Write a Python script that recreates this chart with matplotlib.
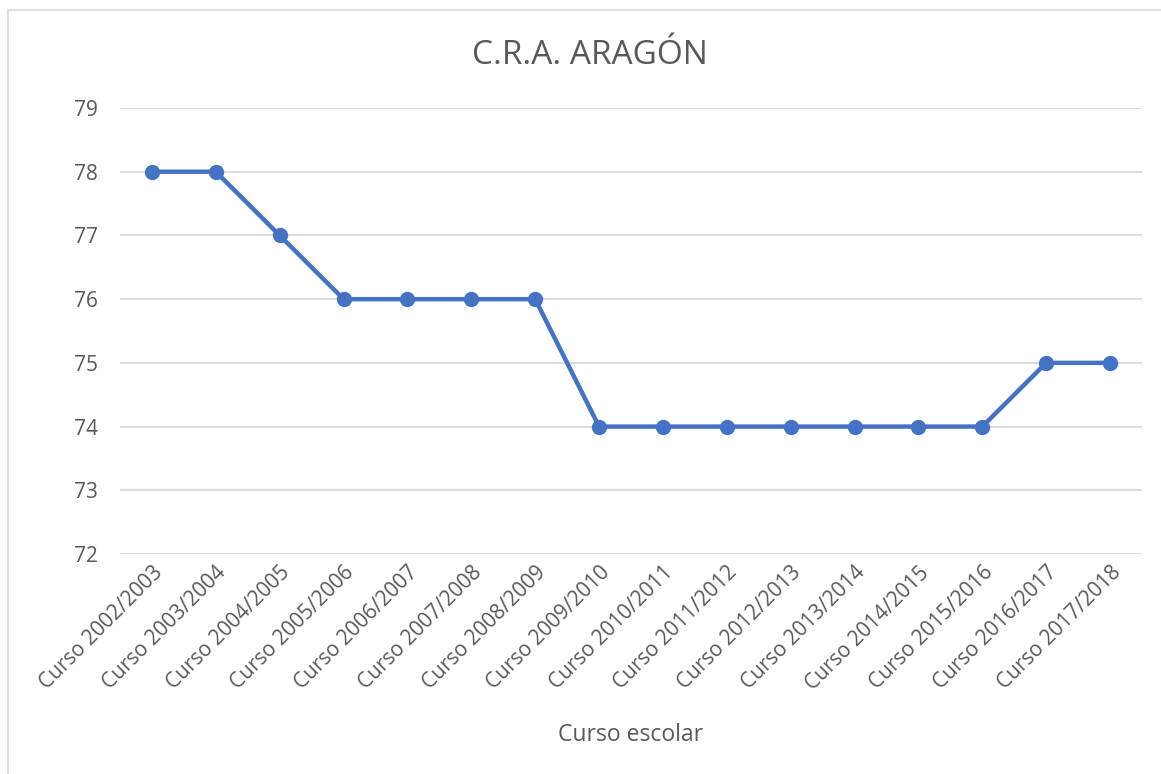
import matplotlib
matplotlib.use("Agg")
import matplotlib.pyplot as plt
from matplotlib.patches import Rectangle

# datos del grafico
cursos = ["Curso 2002/2003", "Curso 2003/2004", "Curso 2004/2005", "Curso 2005/2006",
          "Curso 2006/2007", "Curso 2007/2008", "Curso 2008/2009", "Curso 2009/2010",
          "Curso 2010/2011", "Curso 2011/2012", "Curso 2012/2013", "Curso 2013/2014",
          "Curso 2014/2015", "Curso 2015/2016", "Curso 2016/2017", "Curso 2017/2018"]
alumnos = [78, 78, 77, 76, 76, 76, 76, 74, 74, 74, 74, 74, 74, 74, 75, 75]
yticks = [72, 73, 74, 75, 76, 77, 78, 79]

plt.rcParams['font.family'] = ['Open Sans', 'DejaVu Sans']
gris = "#595959"

W, H = 1161, 774
fig = plt.figure(figsize=(W / 100, H / 100), dpi=100)
# borde del area del grafico (solo se ve a la izquierda y arriba)
fig.patches.append(Rectangle((8 / W, -0.1), 1.2, 1.1 - 10 / H, transform=fig.transFigure,
                             fill=False, edgecolor="#D9D9D9", linewidth=1.2))

ax = fig.add_axes([120 / W, 1 - 554 / H, (1142 - 120) / W, (554 - 108) / H])
x = range(len(cursos))
ax.plot(x, alumnos, color="#4472C4", linewidth=3.2, marker="o", markersize=10,
        solid_capstyle="round", zorder=3)

ax.set_xlim(-0.5, len(cursos) - 0.5)
ax.set_ylim(72, 79)
ax.set_yticks(yticks)
ax.set_xticks(list(x))
ax.set_xticklabels(cursos, rotation=45, ha="right", rotation_mode="anchor")
ax.grid(axis="y", color="#D9D9D9", linewidth=1.3)
ax.set_axisbelow(True)
for s in ax.spines.values():
    s.set_visible(False)
ax.tick_params(axis="both", length=0, labelsize=15, labelcolor=gris)
ax.tick_params(axis="y", pad=16)
ax.tick_params(axis="x", pad=6)

fig.text(590 / W, 1 - 55 / H, "C.R.A. ARAGÓN", ha="center", va="center",
         fontsize=24, color=gris)
fig.text(631 / W, 1 - 735 / H, "Curso escolar", ha="center", va="center",
         fontsize=16.5, color=gris)

fig.savefig("out.png", dpi=100)
